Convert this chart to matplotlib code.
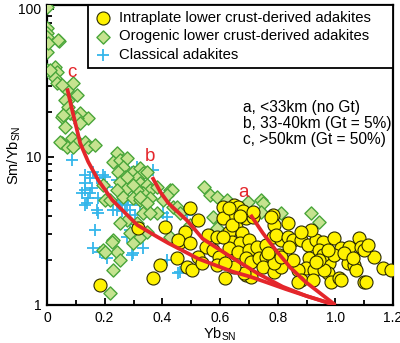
import numpy as np
import matplotlib
matplotlib.use("Agg")
import matplotlib.pyplot as plt
from matplotlib.ticker import MultipleLocator, LogLocator, NullFormatter, FixedFormatter, FixedLocator

plt.rcParams['font.family'] = ['Liberation Sans', 'DejaVu Sans']
plt.rcParams['mathtext.fontset'] = 'custom'
plt.rcParams['mathtext.rm'] = 'Liberation Sans'
plt.rcParams['mathtext.it'] = 'Liberation Sans:italic'
plt.rcParams['mathtext.bf'] = 'Liberation Sans:bold'

# Intraplate lower crust-derived adakites (Yb_SN, Sm/Yb_SN)
intra_x = [0.184, 0.317, 0.41, 0.393, 0.369, 0.452, 0.463, 0.487, 0.497, 0.504, 0.522, 0.48,
           0.456, 0.497, 0.56, 0.591, 0.55, 0.577, 0.595, 0.525, 0.539, 0.591, 0.619, 0.612,
           0.647, 0.689, 0.637, 0.654, 0.63, 0.678, 0.716, 0.643, 0.671, 0.699, 0.63, 0.661,
           0.699, 0.73, 0.758, 0.783, 0.786, 0.783, 0.689, 0.706, 0.734, 0.758, 0.783, 0.803,
           0.689, 0.748, 0.786, 0.81, 0.81, 0.612, 0.664, 0.612, 0.643, 0.63, 0.68, 0.67,
           0.716, 0.776, 0.835, 0.793, 0.835, 0.852, 0.88, 0.904, 0.932, 0.957, 0.995, 1.019,
           1.047, 1.082, 1.089, 1.134, 1.165, 1.193, 0.977, 0.974, 0.984, 1.012, 1.043, 1.064,
           1.071, 1.099, 0.908, 0.897, 0.925, 0.87, 0.88, 0.852, 0.786, 0.706, 0.682, 0.647,
           0.619, 0.765, 0.81, 0.915, 0.88, 0.943, 0.957, 0.995, 1.03, 1.061, 1.099, 1.113,
           0.974, 0.838, 1.106, 1.019, 0.922, 0.87, 0.96, 0.943, 0.932]
intra_y = [1.36, 3.31, 3.37, 1.86, 1.52, 2.08, 2.66, 1.81, 4.52, 1.72, 3.75, 3.11,
           2.75, 2.62, 2.97, 2.88, 2.46, 2.35, 2.11, 2.11, 1.92, 1.86, 1.52, 4.6,
           4.74, 3.87, 3.93, 3.37, 3.11, 3.07, 3.93, 2.66, 2.62, 2.75, 2.43, 2.28,
           2.35, 2.46, 2.54, 4.06, 3.47, 2.88, 2.08, 1.95, 2.08, 2.11, 2.01, 2.18,
           1.59, 1.81, 1.67, 1.81, 2.75, 2.88, 4.6, 3.87, 3.47, 4.5, 4.3, 4.0,
           4.25, 3.93, 3.58, 2.97, 2.88, 2.75, 2.75, 2.54, 2.75, 2.66, 2.84, 2.43,
           2.46, 2.84, 2.46, 2.11, 1.78, 1.72, 1.92, 1.65, 1.43, 1.52, 1.92, 1.86,
           1.72, 1.43, 2.08, 1.78, 1.72, 1.72, 1.47, 2.01, 1.92, 1.55, 1.65, 1.81,
           1.92, 2.25, 2.11, 3.21, 3.11, 2.35, 2.18, 2.18, 2.25, 2.08, 2.35, 2.54,
           2.35, 2.46, 1.43, 1.47, 1.47, 1.43, 1.72, 2.01, 1.95]

# Orogenic lower crust-derived adakites
orog_x = [0.0, 0.0, 0.0, 0.0, 0.0, 0.042, 0.0, 0.028, 0.035, 0.028, 0.035, 0.07,
          0.09, 0.104, 0.073, 0.052, 0.063, 0.073, 0.052, 0.08, 0.115, 0.143, 0.063, 0.052,
          0.07, 0.087, 0.108, 0.132, 0.143, 0.167, 0.056, 0.104, 0.115, 0.045, 0.09, 0.003,
          0.038, 0.01,
          0.243, 0.23, 0.254, 0.278, 0.264, 0.247, 0.271, 0.299, 0.323, 0.334, 0.348, 0.313,
          0.289, 0.254, 0.323, 0.348, 0.358, 0.334, 0.313, 0.278, 0.243, 0.264, 0.299, 0.323,
          0.358, 0.202, 0.219, 0.195, 0.278, 0.299, 0.323, 0.348, 0.383, 0.403, 0.428, 0.438,
          0.383, 0.334, 0.313, 0.278, 0.254, 0.289, 0.323, 0.348, 0.299, 0.23, 0.195, 0.243,
          0.254, 0.23, 0.219, 0.226, 0.202, 0.358,
          0.435, 0.417, 0.543, 0.567, 0.591, 0.626, 0.696, 0.741, 0.577, 0.748, 0.741, 0.81,
          0.915, 0.943, 0.452, 0.428, 0.591, 0.463, 0.497]
orog_y = [102, 74.4, 68.8, 64.7, 51.2, 60.8, 38.7, 40.6, 37.5, 34.2, 31.6, 28.4,
          31.6, 26.2, 24.3, 30.6, 24.3, 21.8, 18.6, 19.8, 19.8, 18.4, 15.9, 12.4,
          11.7, 13.4, 12.6, 12.6, 11.7, 12.0, 19.2, 18.4, 16.9, 12.6, 11.7, 58.9,
          61.8, 38.7,
          10.6, 9.25, 9.55, 9.85, 8.56, 7.93, 7.33, 7.93, 8.43, 7.8, 7.93, 7.21,
          6.78, 6.78, 6.66, 6.47, 5.99, 5.7, 5.99, 6.17, 5.99, 5.38, 5.28, 5.12,
          5.28, 5.12, 5.12, 6.47, 7.33, 6.47, 5.38, 4.89, 6.28, 5.12, 5.99, 4.6,
          4.18, 4.18, 3.58, 3.75, 3.58, 3.07, 2.88, 3.11, 2.62, 2.75, 2.35, 2.28,
          2.01, 1.72, 1.2, 2.66, 2.28, 4.18,
          5.99, 5.54, 6.28, 5.54, 5.38, 5.12, 4.96, 5.12, 3.93, 4.89, 4.25, 4.18,
          4.18, 3.64, 4.6, 2.88, 3.31, 4.18, 3.47]

# Classical adakites
clas_x = [0.087, 0.132, 0.15, 0.132, 0.174, 0.202, 0.243, 0.122, 0.15, 0.143, 0.177, 0.209,
          0.369, 0.313, 0.132, 0.157, 0.132, 0.174, 0.167, 0.16, 0.184, 0.209, 0.278, 0.299,
          0.334, 0.403, 0.463, 0.247, 0.278, 0.219, 0.23, 0.195, 0.16, 0.139, 0.177, 0.289,
          0.296, 0.243, 0.323, 0.417, 0.487, 0.417, 0.456, 0.254, 0.271, 0.289, 0.26, 0.282,
          0.306]
clas_y = [9.55, 7.56, 7.21, 6.66, 7.21, 7.33, 7.0, 5.7, 5.7, 5.28, 5.28, 6.28,
          8.18, 8.56, 5.99, 6.17, 4.74, 4.38, 3.21, 2.43, 2.28, 2.08, 2.88, 2.25,
          2.43, 4.18, 1.67, 4.89, 4.74, 5.12, 4.38, 7.56, 7.93, 4.89, 4.18, 3.21,
          2.18, 4.38, 4.74, 3.93, 4.06, 2.01, 1.65, 5.12, 4.74, 4.38, 4.3, 5.28,
          4.06]

# melting model curves
curve_a_x = [0.706, 0.748, 0.793, 0.845, 0.897, 0.95, 1.0]
curve_a_y = [4.06, 3.07, 2.35, 1.78, 1.43, 1.19, 1.0]
curve_b_x = [0.365, 0.393, 0.42, 0.44, 0.487, 0.54, 0.643, 0.734, 0.817, 0.9, 1.0]
curve_b_y = [7.3, 5.8, 4.9, 4.5, 3.7, 2.8, 2.08, 1.62, 1.33, 1.15, 1.0]
curve_c_x = [0.07, 0.087, 0.115, 0.143, 0.177, 0.226, 0.313, 0.383, 0.42, 0.525, 0.643, 0.706, 0.758, 0.828, 0.9, 1.0]
curve_c_y = [29, 20.8, 12.4, 9.25, 7.0, 5.12, 3.47, 2.88, 2.62, 2.05, 1.68, 1.55, 1.43, 1.28, 1.15, 1.0]

curve_labels = ["a", "b", "c"]
label_x = [0.682, 0.358, 0.087]
label_y = [5.72, 10.0, 36.9]

model_text = ["a, <33km (no Gt)", "b, 33-40km (Gt = 5%)", "c, >50km (Gt = 50%)"]

fig = plt.figure(figsize=(4.0, 3.43), dpi=100)
ax = fig.add_axes([0.1175, 0.1108, 0.865, 0.8746])

ax.scatter(clas_x, clas_y, marker='+', s=80, c='#35b6ea', linewidths=1.3, zorder=2,
           label='Classical adakites')
ax.scatter(orog_x, orog_y, marker='D', s=45, facecolor='#c5e38f', edgecolor='#4aa63b',
           linewidths=1.0, zorder=3, label='Orogenic lower crust-derived adakites')
ax.scatter(intra_x, intra_y, marker='o', s=88, facecolor='#fff200', edgecolor='#2b2b00',
           linewidths=0.8, zorder=4, label='Intraplate lower crust-derived adakites')

red = '#e4262b'
for cx, cy in [(curve_a_x, curve_a_y), (curve_b_x, curve_b_y), (curve_c_x, curve_c_y)]:
    ax.plot(cx, cy, color=red, lw=2.7, zorder=5, solid_capstyle='butt')
for lab, lx, ly in zip(curve_labels, label_x, label_y):
    ax.text(lx, ly, lab, color=red, fontsize=13.5, ha='center', va='center', zorder=6)

ax.set_yscale('log')
ax.set_xlim(0, 1.2)
ax.set_ylim(1, 106)

ax.xaxis.set_major_locator(FixedLocator([0, 0.2, 0.4, 0.6, 0.8, 1.0, 1.2]))
ax.xaxis.set_major_formatter(FixedFormatter(['0', '0.2', '0.4', '0.6', '0.8', '1.0', '1.2']))
ax.xaxis.set_minor_locator(MultipleLocator(0.1))
ax.yaxis.set_major_locator(FixedLocator([1, 10, 100]))
ax.yaxis.set_major_formatter(FixedFormatter(['1', '10', '100']))
ax.yaxis.set_minor_locator(LogLocator(base=10, subs=np.arange(2, 10)))
ax.yaxis.set_minor_formatter(NullFormatter())

ax.tick_params(which='both', direction='in', width=1.3, labelsize=10, pad=4)
ax.tick_params(which='major', length=5)
ax.tick_params(which='minor', length=3.5)
for sp in ax.spines.values():
    sp.set_linewidth(1.6)

ax.set_xlabel('Yb$_{\\mathrm{SN}}$', fontsize=10.5)
ax.set_ylabel('Sm/Yb$_{\\mathrm{SN}}$', fontsize=10.5)
ax.xaxis.set_label_coords(0.5, -0.068)
ax.yaxis.set_label_coords(-0.07, 0.5)

handles, labels = ax.get_legend_handles_labels()
leg = ax.legend(handles[::-1], labels[::-1], loc='upper left',
                bbox_to_anchor=(0.1185, 0.783, 0.8815, 0.217), mode='expand',
                borderaxespad=0, fontsize=10.7, frameon=True, fancybox=False,
                edgecolor='black', framealpha=1, handletextpad=0.5, labelspacing=0.3,
                borderpad=0.4, handlelength=1.2)
leg.get_frame().set_linewidth(1.3)
leg.set_zorder(10)

for i, t in enumerate(model_text):
    ax.text(0.566, 0.657 - i * 0.052, t, transform=ax.transAxes, fontsize=11.2,
            ha='left', va='center', zorder=7)

fig.savefig('out.png', dpi=100)
